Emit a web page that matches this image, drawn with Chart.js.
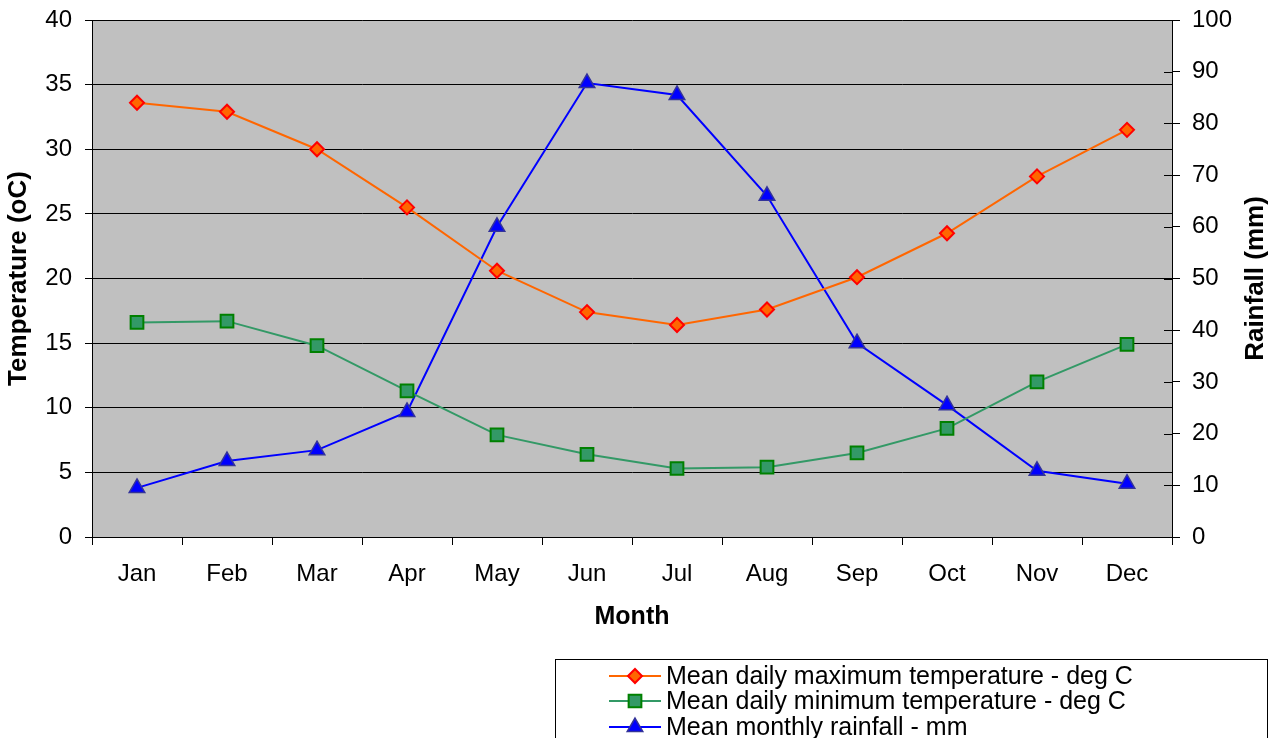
<!DOCTYPE html>
<html><head><meta charset="utf-8">
<script src="https://cdn.jsdelivr.net/npm/chart.js@4.4.1/dist/chart.umd.min.js"></script>
<style>html,body{margin:0;padding:0;background:#fff;overflow:hidden}</style>
</head><body>
<canvas id="c" width="1281" height="738" style="display:block;width:1281px;height:738px"></canvas>
<script>
const months = ['Jan','Feb','Mar','Apr','May','Jun','Jul','Aug','Sep','Oct','Nov','Dec'];
const maxTemp = [33.6, 32.9, 30.0, 25.5, 20.6, 17.4, 16.4, 17.6, 20.1, 23.5, 27.9, 31.5];
const minTemp = [16.6, 16.7, 14.8, 11.3, 7.9, 6.4, 5.3, 5.4, 6.5, 8.4, 12.0, 14.9];
const rainfall = [9.5, 14.7, 16.8, 24.2, 60.0, 87.8, 85.5, 66.0, 37.5, 25.5, 12.8, 10.3];
const seriesNames = ['Mean daily maximum temperature - deg C','Mean daily minimum temperature - deg C','Mean monthly rainfall - mm'];
const tempAxis = [0, 40, 5];
const rainAxis = [0, 100, 10];
const axisTitles = ['Temperature (oC)', 'Rainfall (mm)', 'Month'];

const FONT = "'Liberation Sans', Arial, sans-serif";

const plotBg = {
  id: 'plotBg',
  beforeDraw(chart) {
    const {ctx, chartArea: a} = chart;
    ctx.save();
    ctx.fillStyle = '#C0C0C0';
    ctx.fillRect(a.left, a.top, a.right - a.left, a.bottom - a.top);
    ctx.restore();
  },
  afterDraw(chart) {
    const {ctx, chartArea: a} = chart;
    ctx.save();
    const y1 = chart.scales.y1;
    ctx.strokeStyle = '#000';
    ctx.lineWidth = 1;
    y1.ticks.forEach(t => {
      const py = Math.round(y1.getPixelForValue(t.value)) + 0.5;
      ctx.beginPath(); ctx.moveTo(a.right - 8, py); ctx.lineTo(a.right, py); ctx.stroke();
    });
    ctx.save();
    ctx.translate(1256, (a.top + a.bottom) / 2);
    ctx.rotate(-Math.PI / 2);
    ctx.font = "bold 26px " + FONT;
    ctx.fillStyle = '#000';
    ctx.textAlign = 'center';
    ctx.textBaseline = 'middle';
    ctx.fillText(axisTitles[1], 0, 0);
    ctx.restore();
    ctx.strokeStyle = '#000';
    ctx.lineWidth = 1;
    ctx.strokeRect(555.5, 659.5, 712, 120);
    const rowsY = [676, 701, 727];
    chart.data.datasets.forEach((ds, i) => {
      const y = rowsY[i];
      ctx.strokeStyle = ds.borderColor;
      ctx.lineWidth = 2;
      ctx.beginPath(); ctx.moveTo(609, y); ctx.lineTo(661, y); ctx.stroke();
      ctx.fillStyle = ds.pointBackgroundColor;
      ctx.strokeStyle = ds.pointBorderColor;
      ctx.lineWidth = ds.pointBorderWidth;
      Chart.helpers.drawPoint(ctx, {pointStyle: ds.pointStyle, radius: ds.pointRadius, borderWidth: ds.pointBorderWidth, rotation: 0}, 635, y);
      ctx.fillStyle = '#000';
      ctx.font = "25px " + FONT;
      ctx.textAlign = 'left';
      ctx.textBaseline = 'middle';
      ctx.fillText(ds.label, 666, y + 1);
    });
    ctx.restore();
  }
};

new Chart(document.getElementById('c'), {
  type: 'line',
  data: {
    labels: months,
    datasets: [
      {label: seriesNames[0], data: maxTemp, yAxisID: 'y', borderColor: '#FF6600', borderWidth: 2,
       pointStyle: 'rectRot', pointRadius: 7, pointBackgroundColor: '#FF6600', pointBorderColor: '#FF0000', pointBorderWidth: 2},
      {label: seriesNames[1], data: minTemp, yAxisID: 'y', borderColor: '#339966', borderWidth: 2,
       pointStyle: 'rect', pointRadius: 9, pointBackgroundColor: '#339966', pointBorderColor: '#008000', pointBorderWidth: 2},
      {label: seriesNames[2], data: rainfall, yAxisID: 'y1', borderColor: '#0000FF', borderWidth: 2,
       pointStyle: 'triangle', pointRadius: 9, pointBackgroundColor: '#0000FF', pointBorderColor: '#333399', pointBorderWidth: 1.5}
    ]
  },
  options: {
    responsive: false, animation: false, devicePixelRatio: 1,
    layout: {padding: {left: 0, right: 0, top: 20, bottom: 101}},
    elements: {line: {tension: 0}},
    plugins: {legend: {display: false}, tooltip: {enabled: false}},
    scales: {
      x: {
        type: 'category', offset: true,
        grid: {offset: true, drawOnChartArea: false, color: '#000', tickLength: 8},
        border: {color: '#000', width: 1},
        ticks: {font: {family: FONT, size: 24}, color: '#000', padding: 15, maxRotation: 0, autoSkip: false},
        title: {display: true, text: axisTitles[2], color: '#000', font: {family: FONT, size: 25, weight: 'bold'}, padding: {top: 0, bottom: 5}},
        afterFit(s) { s.height = 100; s.paddingLeft = 0; s.paddingRight = 0; }
      },
      y: {
        position: 'left', min: tempAxis[0], max: tempAxis[1],
        ticks: {stepSize: tempAxis[2], font: {family: FONT, size: 24}, color: '#000', padding: 13},
        grid: {color: '#000', tickLength: 7, drawOnChartArea: true},
        border: {color: '#000', width: 1},
        title: {display: true, text: axisTitles[0], color: '#000', font: {family: FONT, size: 26, weight: 'bold'}, padding: {top: 3, bottom: 0}},
        afterFit(s) { s.width = 92; s.paddingTop = 0; s.paddingBottom = 0; }
      },
      y1: {
        position: 'right', min: rainAxis[0], max: rainAxis[1],
        ticks: {stepSize: rainAxis[2], font: {family: FONT, size: 24}, color: '#000', padding: 12},
        grid: {color: '#000', tickLength: 8, drawOnChartArea: false},
        border: {color: '#000', width: 1},
        afterFit(s) { s.width = 109; s.paddingTop = 0; s.paddingBottom = 0; }
      }
    }
  },
  plugins: [plotBg]
});
</script>
</body></html>
